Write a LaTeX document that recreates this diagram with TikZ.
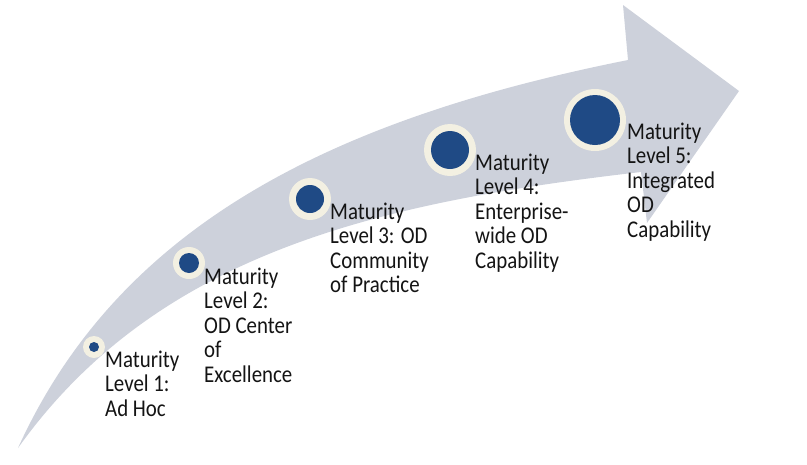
\documentclass[tikz,border=0pt]{standalone}
\usepackage{fontspec}
\setmainfont{Carlito}[FakeStretch=0.87]
\definecolor{arrowgray}{HTML}{CDD1DB}
\definecolor{dotblue}{HTML}{1F4A85}
\definecolor{halo}{HTML}{F3F0E2}
\definecolor{txt}{HTML}{141414}
\begin{document}
\begin{tikzpicture}[x=1pt,y=-1pt,
  halostyle/.style={circle, fill=halo, inner sep=0pt},
  dotstyle/.style={circle, fill=dotblue, inner sep=0pt},
  lbl/.style={anchor=base west, align=left, inner sep=0pt, text=txt,
    font=\fontsize{24}{24.5}\selectfont}]
\useasboundingbox (0,0) rectangle (807,464);
% curved arrow
\fill[arrowgray] (18,448) .. controls (118,228) and (327,120) .. (628,60)
  -- (623,5) -- (739,91) -- (647,223) -- (641,172)
  .. controls (381,202) and (158,252) .. cycle;
% circles
\node[halostyle, minimum size=22] (h1) at (94,347) {};
\node[dotstyle, minimum size=10] (d1) at (h1) {};
\node[halostyle, minimum size=32] (h2) at (189,263) {};
\node[dotstyle, minimum size=20] (d2) at (h2) {};
\node[halostyle, minimum size=42] (h3) at (310,199) {};
\node[dotstyle, minimum size=28] (d3) at (h3) {};
\node[halostyle, minimum size=52] (h4) at (450,150) {};
\node[dotstyle, minimum size=38] (d4) at (h4) {};
\node[halostyle, minimum size=62] (h5) at (595,120) {};
\node[dotstyle, minimum size=50] (d5) at (h5) {};
% labels (anchored at the baseline of their last line)
\node[lbl] (t1) at (105,416) {Maturity\\Level 1:\\Ad Hoc};
\node[lbl] (t2) at (204,382) {Maturity\\Level 2:\\OD Center\\of\\Excellence};
\node[lbl] (t3) at (330,292.5) {Maturity\\Level 3: OD\\Community\\of Practice};
\node[lbl] (t4) at (475,268) {Maturity\\Level 4:\\Enterprise-\\wide OD\\Capability};
\node[lbl] (t5) at (627,237) {Maturity\\Level 5:\\Integrated\\OD\\Capability};
\end{tikzpicture}
\end{document}
